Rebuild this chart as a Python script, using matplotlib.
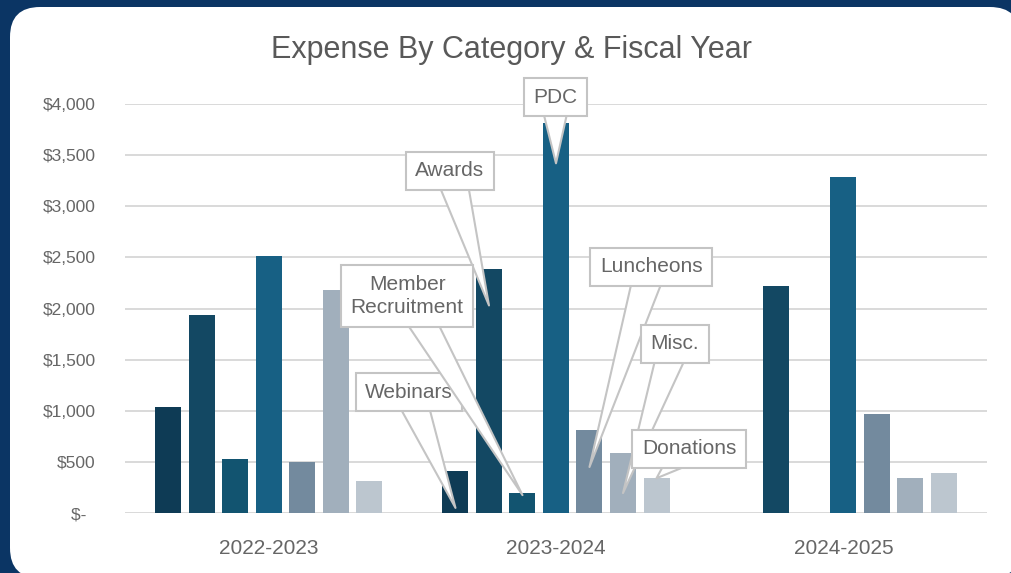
import numpy as np
import matplotlib.pyplot as plt
from matplotlib.patches import FancyBboxPatch
from matplotlib.ticker import FuncFormatter

years = ['2022-2023', '2023-2024', '2024-2025']
categories = ['Webinars', 'Awards', 'Member\nRecruitment', 'PDC', 'Luncheons', 'Misc.', 'Donations']

webinars = [1040, 415, 0]
awards = [1935, 2390, 2220]
member_recruitment = [525, 200, 0]
pdc = [2515, 3810, 3290]
luncheons = [500, 810, 965]
misc = [2180, 585, 340]
donations = [315, 340, 390]
series = [webinars, awards, member_recruitment, pdc, luncheons, misc, donations]

colors = ['#0e3b55', '#134863', '#125470', '#176084', '#738a9e', '#a1afbc', '#bcc6cf']

# callouts sit on the 2023-2024 bars: value where the pointer ends, text position
callout_tip = [50, 2030, 175, 3420, 450, 195, 340]
callout_text = [(0.489, 1183), (0.631, 3345), (0.482, 2122), (0.997, 4068),
                (1.331, 2406), (1.414, 1653), (1.463, 626)]

plt.rcParams['font.family'] = ['Liberation Sans', 'DejaVu Sans']

fig = plt.figure(figsize=(10.12, 5.73), dpi=100, facecolor='#0b3564')
panel = FancyBboxPatch((0.10, -0.05), 10.1, 5.71, boxstyle='round,pad=0,rounding_size=0.3',
                       transform=fig.dpi_scale_trans, fc='white', ec='none', zorder=-10)
fig.patches.append(panel)

ax = fig.add_axes([0.1235, 0.1047, 0.9753 - 0.1235, 0.8185 - 0.1047])
ax.set_facecolor('none')

x = np.arange(len(years))
step = 0.1166
width = 0.0905
for j, vals in enumerate(series):
    ax.bar(x + (j - 3) * step, vals, width, color=colors[j], zorder=3)

ax.set_xlim(-0.5, 2.5)
ax.set_ylim(0, 4000)
ax.set_yticks(range(0, 4001, 500))
ax.yaxis.set_major_formatter(FuncFormatter(lambda v, p: '$-  ' if v == 0 else '${:,.0f}'.format(v)))
ax.set_xticks(x)
ax.set_xticklabels(years)
ax.tick_params(axis='both', length=0, colors='#666666')
ax.tick_params(axis='y', labelsize=12.5, pad=21)
ax.tick_params(axis='x', labelsize=15, pad=19)
ax.grid(axis='y', color='#d9d9d9', linewidth=1.4, zorder=0)
for s in ax.spines.values():
    s.set_visible(False)

# wedge starts at the text centre; the box is drawn over its wide end
for j, name in enumerate(categories):
    ax.annotate(name, xy=(1 + (j - 3) * step, callout_tip[j]), xytext=callout_text[j],
                ha='center', va='center', fontsize=15, color='#666666', annotation_clip=False,
                linespacing=1.3, zorder=5,
                bbox=dict(boxstyle='square,pad=0.45', fc='white', ec='#c4c4c4', lw=1.5),
                arrowprops=dict(arrowstyle='wedge,tail_width=1.5,shrink_factor=0.5',
                                fc='white', ec='#c4c4c4', lw=1.5, patchA=None,
                                shrinkA=0, shrinkB=0))

fig.text(0.505, 0.912, 'Expense By Category & Fiscal Year', ha='center', va='center',
         fontsize=22, color='#595959')

fig.savefig('out.png', dpi=100, facecolor=fig.get_facecolor())
